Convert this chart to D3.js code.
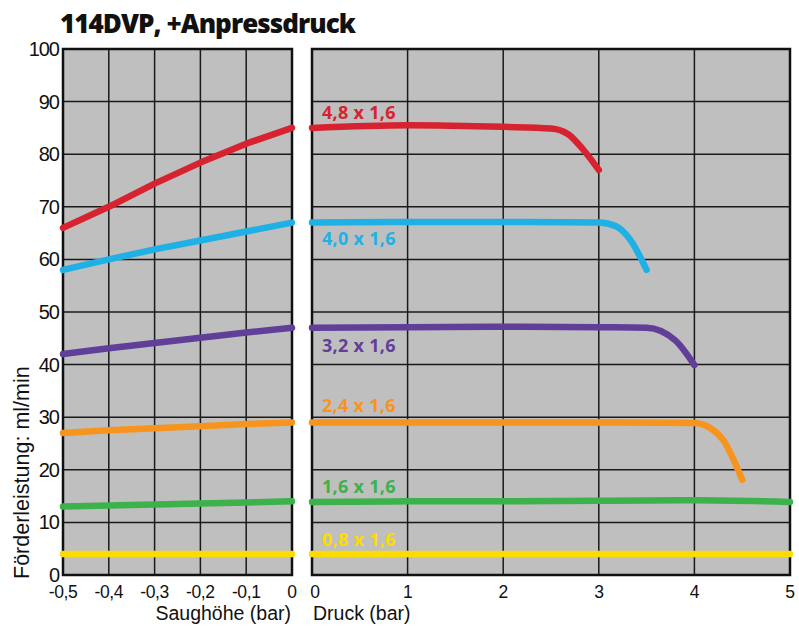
<!DOCTYPE html>
<html>
<head>
<meta charset="utf-8">
<script src="https://cdn.jsdelivr.net/npm/d3@7"></script>
<style>
  body { margin: 0; background: #fff; }
  svg { display: block; }
</style>
</head>
<body>
<div id="chart"></div>
<script>
// series names (pump sizes)
const seriesNames = ["4,8 x 1,6", "4,0 x 1,6", "3,2 x 1,6", "2,4 x 1,6", "1,6 x 1,6", "0,8 x 1,6"];
const seriesColors = ["#d6232f", "#1fb1e6", "#613f99", "#f7941e", "#3db14b", "#fcdc00"];

// left panel: suction height (bar)
const suctionX = [-0.5, -0.4, -0.3, -0.2, -0.1, 0];
const suctionRed = [66, 70, 74.4, 78.4, 82, 85];
const suctionBlue = [58, 60, 61.9, 63.6, 65.3, 67];
const suctionPurple = [42, 43.1, 44.1, 45.1, 46.1, 47];
const suctionOrange = [27, 27.5, 27.9, 28.3, 28.7, 29];
const suctionGreen = [13, 13.2, 13.4, 13.6, 13.8, 14];
const suctionYellow = [4, 4, 4, 4, 4, 4];

// right panel: pressure (bar)
const pressRedX = [0, 1, 2, 2.5, 2.68, 2.84, 3.0];
const pressRedY = [85, 85.5, 85.2, 84.9, 83.8, 80.8, 77];
const pressBlueX = [0, 1, 2, 3, 3.18, 3.33, 3.5];
const pressBlueY = [67, 67.1, 67.1, 67, 66.3, 63.7, 58];
const pressPurpleX = [0, 1, 2, 3, 3.5, 3.8, 4.0];
const pressPurpleY = [47, 47.1, 47.2, 47.1, 47, 44.6, 39.9];
const pressOrangeX = [0, 1, 2, 3, 4, 4.17, 4.3, 4.5];
const pressOrangeY = [29, 29, 29, 29, 28.9, 27.9, 25.7, 18.1];
const pressGreenX = [0, 1, 2, 3, 4, 5];
const pressGreenY = [13.9, 14, 14, 14.1, 14.2, 13.9];
const pressYellowX = [0, 5];
const pressYellowY = [4, 4];

// tick labels
const yTicks = [0, 10, 20, 30, 40, 50, 60, 70, 80, 90, 100];
const suctionTicks = [-0.5, -0.4, -0.3, -0.2, -0.1, 0];
const pressTicks = [0, 1, 2, 3, 4, 5];

const suctionSeries = [suctionRed, suctionBlue, suctionPurple, suctionOrange, suctionGreen, suctionYellow];
const pressSeries = [
    [pressRedX, pressRedY], [pressBlueX, pressBlueY], [pressPurpleX, pressPurpleY],
    [pressOrangeX, pressOrangeY], [pressGreenX, pressGreenY], [pressYellowX, pressYellowY]
];

const width = 799, height = 626;
const svg = d3.select("#chart").append("svg")
    .attr("width", width)
    .attr("height", height);

const y = d3.scaleLinear().domain([0, 100]).range([575, 49]);
const xL = d3.scaleLinear().domain([-0.5, 0]).range([63, 292]);
const xR = d3.scaleLinear().domain([0, 5]).range([312, 790]);

const tickFont = "Liberation Sans, Arial, sans-serif";
const fmt = d => String(d).replace(".", ",");

// panel backgrounds + grid
function drawPanel(x, ticks) {
    const [x0, x1] = x.range();
    const g = svg.append("g");
    g.append("rect")
        .attr("x", x0).attr("y", y(100))
        .attr("width", x1 - x0).attr("height", y(0) - y(100))
        .attr("fill", "#bfbfbf");
    g.selectAll(".hgrid").data(yTicks).join("line")
        .attr("x1", x0).attr("x2", x1)
        .attr("y1", d => y(d)).attr("y2", d => y(d))
        .attr("stroke", "#1a1a1a").attr("stroke-width", 1.5);
    g.selectAll(".vgrid").data(ticks).join("line")
        .attr("x1", d => x(d)).attr("x2", d => x(d))
        .attr("y1", y(100)).attr("y2", y(0))
        .attr("stroke", "#1a1a1a").attr("stroke-width", 1.5);
    g.append("rect")
        .attr("x", x0).attr("y", y(100))
        .attr("width", x1 - x0).attr("height", y(0) - y(100))
        .attr("fill", "none").attr("stroke", "#111").attr("stroke-width", 2.5);

    // bottom tick labels
    svg.append("g")
        .selectAll("text").data(ticks).join("text")
        .attr("x", d => x(d) + (x === xR && d === 0 ? 3 : 0))
        .attr("y", 598)
        .attr("text-anchor", "middle")
        .attr("font-family", tickFont)
        .attr("font-size", 17.5)
        .attr("letter-spacing", -0.4)
        .attr("fill", "#111")
        .text(d => fmt(d));
}

drawPanel(xL, suctionTicks);
drawPanel(xR, pressTicks);

// y tick labels
svg.append("g")
    .selectAll("text").data(yTicks).join("text")
    .attr("x", 59)
    .attr("y", d => y(d) + 7)
    .attr("text-anchor", "end")
    .attr("font-family", tickFont)
    .attr("font-size", 20)
    .attr("letter-spacing", -1)
    .attr("fill", "#111")
    .text(d => d);

// lines
const lineL = d3.line().x(d => xL(d[0])).y(d => y(d[1]));
const lineR = d3.line().x(d => xR(d[0])).y(d => y(d[1])).curve(d3.curveMonotoneX);

suctionSeries.forEach((vals, i) => {
    svg.append("path")
        .datum(suctionX.map((xv, j) => [xv, vals[j]]))
        .attr("d", lineL)
        .attr("fill", "none")
        .attr("stroke", seriesColors[i])
        .attr("stroke-width", 6.5)
        .attr("stroke-linecap", "round")
        .attr("stroke-linejoin", "round");
});

pressSeries.forEach(([xs, ys], i) => {
    svg.append("path")
        .datum(xs.map((xv, j) => [xv, ys[j]]))
        .attr("d", lineR)
        .attr("fill", "none")
        .attr("stroke", seriesColors[i])
        .attr("stroke-width", 6.5)
        .attr("stroke-linecap", "round")
        .attr("stroke-linejoin", "round");
});

// series labels, placed above or below each line's start
const labelDy = [-9, 22.5, 24, -10, -8.5, -8];
seriesNames.forEach((name, i) => {
    svg.append("text")
        .attr("x", xR(0) + 10)
        .attr("y", y(pressSeries[i][1][0]) + labelDy[i])
        .attr("font-family", "Open Sans, sans-serif")
        .attr("font-weight", 700)
        .attr("font-size", 18)
        .attr("letter-spacing", 0.3)
        .attr("fill", seriesColors[i])
        .text(name);
});

// title
svg.append("text")
    .attr("x", 60)
    .attr("y", 33)
    .attr("font-family", "Open Sans, sans-serif")
    .attr("font-weight", 800)
    .attr("font-size", 26)
    .attr("letter-spacing", -0.95)
    .attr("fill", "#111")
    .text("114DVP, +Anpressdruck");

// axis titles
svg.append("text")
    .attr("x", 291)
    .attr("y", 620)
    .attr("text-anchor", "end")
    .attr("font-family", "Liberation Sans, Arial, sans-serif")
    .attr("font-size", 19.5)
    .attr("fill", "#111")
    .text("Saughöhe (bar)");

svg.append("text")
    .attr("x", 313)
    .attr("y", 620)
    .attr("font-family", "Liberation Sans, Arial, sans-serif")
    .attr("font-size", 19.5)
    .attr("fill", "#111")
    .text("Druck (bar)");

svg.append("text")
    .attr("transform", "translate(29,579) rotate(-90)")
    .attr("font-family", "Liberation Sans, Arial, sans-serif")
    .attr("font-size", 21.5)
    .attr("fill", "#111")
    .text("Förderleistung: ml/min");
</script>
</body>
</html>
